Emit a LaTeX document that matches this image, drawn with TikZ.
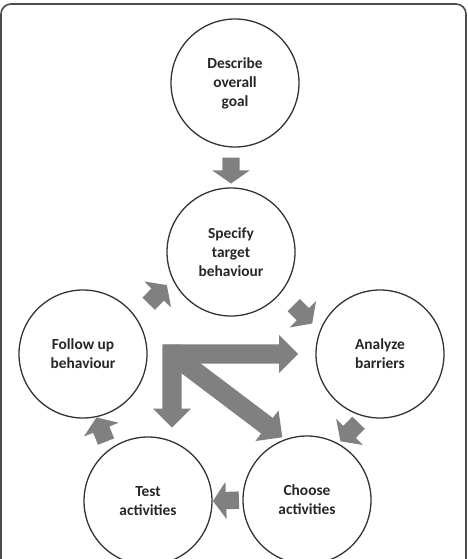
\documentclass[tikz,border=0pt]{standalone}
\usepackage{fontspec}
\setmainfont{Carlito}
\usetikzlibrary{shapes.arrows}

\tikzset{
  stage/.style={circle,draw=black!80,line width=1.3pt,minimum size=128pt,inner sep=0pt,
    align=center,text=black!85,font=\bfseries\fontsize{15.4}{19}\selectfont},
  flow/.style={single arrow,fill=black!50,inner xsep=0pt,inner ysep=8.5pt,minimum height=26pt,
    single arrow head extend=10pt,single arrow tip angle=110,sloped,allow upside down},
  bigflow/.style={single arrow,fill=black!50,inner xsep=0pt,inner ysep=9.5pt,minimum height=#1,
    single arrow head extend=9.5pt,single arrow tip angle=90,sloped,allow upside down,
    pos=0,anchor=tail},
}

\begin{document}
\begin{tikzpicture}[x=1pt,y=-1pt]
\useasboundingbox (0,0) rectangle (467,559);
\clip (0,0) rectangle (467,559);
\draw[rounded corners=10pt,line width=1.6pt,draw=black!70] (1,4) rectangle (466,600);

% the six steps
\node[stage] (goal) at (235,83) {Describe\\overall\\goal};
\node[stage] (specify) at (231,252) {Specify\\target\\behaviour};
\node[stage] (follow) at (83,354) {Follow up\\behaviour};
\node[stage] (analyze) at (380,354) {Analyze\\barriers};
\node[stage] (test) at (148,501) {Test\\activities};
\node[stage] (choose) at (307,500) {Choose\\activities};

% cycle arrows
\path (specify.north |- goal.south) -- node[flow] (a1) {} (specify.north);
\path (follow.35) -- node[flow,pos=.54] (a2) {} (specify.205);
\path (specify.321) -- node[flow,pos=.51] (a3) {} (analyze.159);
\path (analyze.256) -- node[flow,pos=.49] (a4) {} (choose.61);
\path (choose.west) -- node[flow,pos=.45] (a5) {} (test.east);
\path (test.127) -- node[flow,pos=.53] (a6) {} (follow.282);

% central fan
\coordinate (hub) at (172,354);
\path ([xshift=-9pt]hub) -- node[bigflow=135pt] (f1) {} (analyze.west);
\path ([yshift=9.5pt]hub) -- node[bigflow=83pt] (f2) {} (hub |- test.north);
\path (hub) -- node[bigflow=138pt] (f3) {} (choose.110);
\end{tikzpicture}
\end{document}
